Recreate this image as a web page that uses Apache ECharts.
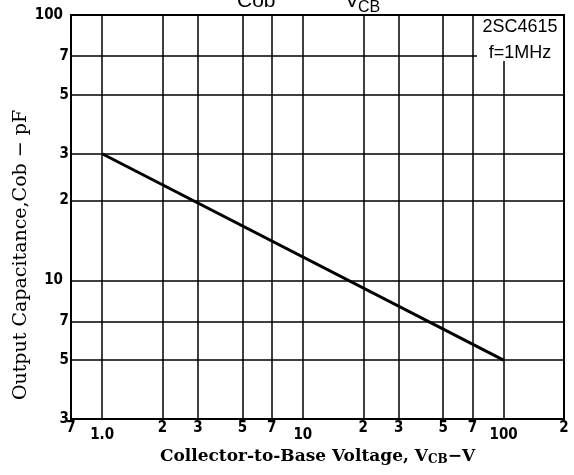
<!DOCTYPE html>
<html><head><meta charset="utf-8">
<script src="https://cdn.jsdelivr.net/npm/echarts@6/dist/echarts.min.js"></script>
<style>html,body{margin:0;padding:0;background:#fff}#c{width:574px;height:475px}</style>
</head><body><div id="c"></div>
<script>
// Data
const vcb = [1, 100];            // Collector-to-Base Voltage (V)
const cob = [30, 5];             // Output Capacitance (pF)
const xTickValues = [0.7, 1, 2, 3, 5, 7, 10, 20, 30, 50, 70, 100, 200];
const xTickLabels = ['7', '1.0', '2', '3', '5', '7', '10', '2', '3', '5', '7', '100', '2'];
const xMajor = [1, 10, 100];
const yTickValues = [3, 5, 7, 10, 20, 30, 50, 70, 100];
const yTickLabels = ['3', '5', '7', '10', '2', '3', '5', '7', '100'];
const yMajor = [10, 100];

function lookup(vals, labels, v) {
  const i = vals.findIndex(t => Math.abs(t - v) / t < 1e-6);
  return i >= 0 ? labels[i] : '';
}
const tickFont = {fontFamily: '"Liberation Sans Narrow", "DejaVu Sans Condensed", sans-serif', fontWeight: 'bold', fontSize: 15, color: '#000'};

const chart = echarts.init(document.getElementById('c'), null, {renderer: 'canvas'});
chart.setOption({
  animation: false,
  backgroundColor: '#fff',
  grid: {left: 71, right: 10, top: 15, bottom: 56, show: true, borderColor: '#000', borderWidth: 2},
  xAxis: {
    type: 'log', logBase: 10, min: 0.7, max: 200,
    name: '{n|Collector-to-Base Voltage, V}{s|CB}{n|−V}',
    nameLocation: 'middle', nameGap: 26,
    nameTextStyle: {fontFamily: 'DejaVu Serif', fontSize: 17, color: '#000',
      rich: {n: {fontFamily: 'DejaVu Serif', fontWeight: 'bold', fontSize: 17, color: '#000'},
             s: {fontFamily: 'DejaVu Serif', fontWeight: 'bold', fontSize: 12, color: '#000', padding: [7, 0, 0, 0]}}},
    axisLine: {show: true, lineStyle: {color: '#000', width: 2}},
    axisTick: {show: false, customValues: xTickValues},
    splitLine: {show: true, lineStyle: {color: '#000', width: 1.5}},
    axisLabel: {
      customValues: xTickValues, margin: 2,
      formatter: v => {
        const s = lookup(xTickValues, xTickLabels, v);
        return xMajor.some(m => Math.abs(m - v) < 1e-6) ? '{maj|' + s + '}' : '{min|' + s + '}';
      },
      rich: {maj: Object.assign({padding: [7, 0, 0, 0]}, tickFont), min: Object.assign({}, tickFont)}
    }
  },
  yAxis: {
    type: 'log', logBase: 10, min: 3, max: 100,
    axisLine: {show: true, lineStyle: {color: '#000', width: 2}},
    axisTick: {show: false, customValues: yTickValues},
    splitLine: {show: true, lineStyle: {color: '#000', width: 1.5}},
    axisLabel: {
      customValues: yTickValues, margin: 2,
      formatter: v => {
        const s = lookup(yTickValues, yTickLabels, v);
        return yMajor.some(m => Math.abs(m - v) < 1e-6) ? '{maj|' + s + '}' : '{min|' + s + '}';
      },
      rich: {maj: Object.assign({padding: [0, 6, 0, 0]}, tickFont), min: Object.assign({}, tickFont)}
    }
  },
  series: [{
    type: 'line', symbol: 'none', silent: true,
    data: vcb.map((v, i) => [v, cob[i]]),
    lineStyle: {color: '#000', width: 3}
  }],
  graphic: [
    {type: 'text', x: 12, y: 255, rotation: Math.PI / 2, z: 100,
     style: {text: 'Output Capacitance,Cob − pF', font: '19px "DejaVu Serif"', fill: '#000', align: 'center', verticalAlign: 'top'}},
    {type: 'rect', shape: {x: 477, y: 16, width: 86, height: 45}, style: {fill: '#fff'}, z: 100},
    {type: 'text', x: 520, y: 14, z: 101,
     style: {text: '2SC4615\nf=1MHz', font: '18px "Liberation Sans"', fill: '#000', align: 'center', lineHeight: 26}},
    {type: 'text', x: 237, y: -9, z: 101, style: {text: 'Cob', font: '21px "Liberation Sans"', fill: '#000'}},
    {type: 'text', x: 345, y: -9, z: 101, style: {text: 'V', font: '21px "Liberation Sans"', fill: '#000'}},
    {type: 'text', x: 358, y: 0, z: 101, style: {text: 'CB', font: '16px "Liberation Sans"', fill: '#000'}}
  ]
});
</script></body></html>
